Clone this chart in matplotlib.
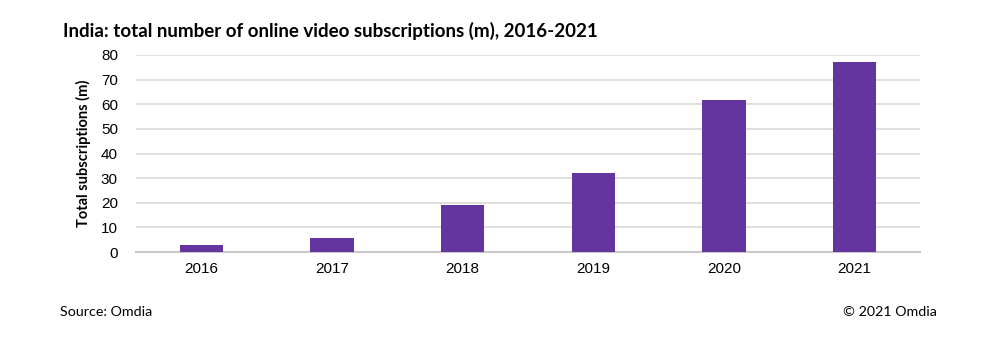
import numpy as np
import matplotlib.pyplot as plt

# data
years = ['2016', '2017', '2018', '2019', '2020', '2021']
subscriptions = [2.7, 5.6, 19.0, 32.0, 61.7, 77.1]
y_ticks = [0, 10, 20, 30, 40, 50, 60, 70, 80]

bar_color = '#65359f'
grid_color = '#d9d9d9'


def main():
    fig = plt.figure(figsize=(9.88, 3.62), dpi=100)
    ax = fig.add_axes([136 / 988, 1 - 252 / 362, 784 / 988, 197 / 362])

    x = np.arange(len(years))
    ax.bar(x, subscriptions, width=0.33, color=bar_color, zorder=3)

    ax.set_xlim(-0.5, len(years) - 0.5)
    ax.set_ylim(0, 80)
    ax.set_yticks(y_ticks)
    ax.set_xticks(x)
    ax.set_xticklabels(years)
    ax.grid(axis='y', color=grid_color, linewidth=1.2, zorder=0)
    ax.set_axisbelow(True)

    for side in ['top', 'right', 'left']:
        ax.spines[side].set_visible(False)
    ax.spines['bottom'].set_color('#c8c8c8')
    ax.spines['bottom'].set_linewidth(1.5)
    ax.tick_params(axis='both', length=0, labelsize=11, colors='black',
                   labelfontfamily='Liberation Sans')
    ax.tick_params(axis='x', pad=7)
    ax.tick_params(axis='y', pad=13)

    ax.set_ylabel('Total subscriptions (m)', fontsize=10.5, fontweight='bold',
                  family='Lato', labelpad=7)

    fig.text(63 / 988, 1 - 31 / 362,
             'India: total number of online video subscriptions (m), 2016-2021',
             fontsize=13.5, fontweight='bold', family='Lato', va='center', ha='left')
    fig.text(60 / 988, 1 - 312 / 362, 'Source: Omdia', fontsize=10.3,
             family='Lato', va='center', ha='left')
    fig.text(937 / 988, 1 - 312 / 362, '\u00a9 2021 Omdia', fontsize=10.3,
             family='Lato', va='center', ha='right')

    fig.savefig('out.png', dpi=100, facecolor='white')


main()
